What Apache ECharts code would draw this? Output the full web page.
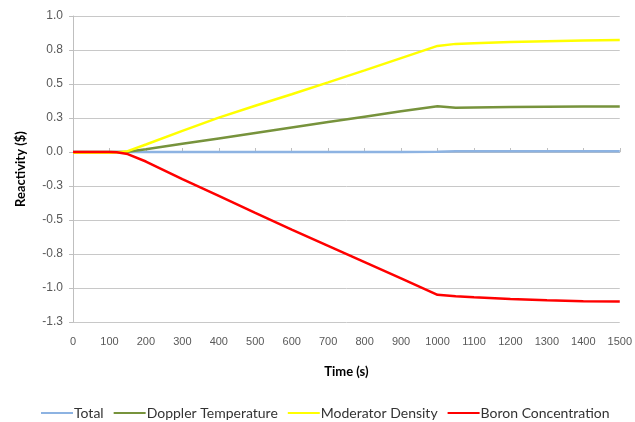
<!DOCTYPE html>
<html>
<head>
<meta charset="utf-8">
<script src="https://cdn.jsdelivr.net/npm/echarts@6/dist/echarts.min.js"></script>
<style>
html,body{margin:0;padding:0;background:#fff;}
#chart{width:635px;height:422px;}
</style>
</head>
<body>
<div id="chart"></div>
<script>
const time = [0,50,100,120,150,200,300,400,500,600,700,800,900,1000,1050,1100,1200,1300,1400,1500];
const total = [0,0,0,0,0,0,0,0,0,0,0,0,0,0.002,0.005,0.005,0.005,0.005,0.005,0.005];
const doppler = [0,0,0,0,0.002,0.02,0.06,0.1,0.14,0.18,0.22,0.26,0.3,0.337,0.326,0.328,0.33,0.332,0.334,0.335];
const moderator = [-0.005,-0.005,-0.005,-0.004,0.006,0.055,0.155,0.253,0.34,0.425,0.512,0.6,0.69,0.78,0.795,0.8,0.808,0.815,0.82,0.824];
const boron = [0,0,0,-0.002,-0.015,-0.07,-0.2,-0.323,-0.447,-0.57,-0.69,-0.81,-0.93,-1.05,-1.06,-1.068,-1.08,-1.09,-1.097,-1.1];
const seriesNames = ['Total','Doppler Temperature','Moderator Density','Boron Concentration'];
const seriesColors = ['#8db3e2','#77933c','#ffff00','#ff0000'];
const seriesData = [total, doppler, moderator, boron];

const chart = echarts.init(document.getElementById('chart'));
chart.setOption({
  animation: false,
  backgroundColor: '#fff',
  grid: {left: 73, right: 10, top: 16, bottom: 100, containLabel: false},
  legend: {
    top: 401,
    left: 36,
    itemWidth: 32,
    itemHeight: 2,
    itemGap: 10,
    icon: 'rect',
    textStyle: {fontFamily: 'Lato', fontSize: 14, color: '#333', padding: [0,0,0,-4]},
    data: seriesNames
  },
  xAxis: {
    type: 'value', min: 0, max: 1500, interval: 100,
    name: 'Time (s)', nameLocation: 'middle', nameGap: 43,
    nameTextStyle: {fontFamily: 'Lato', fontWeight: 'bold', fontSize: 13, color: '#000'},
    axisLine: {show: true, lineStyle: {color: '#bfbfbf', width: 1}},
    axisTick: {show: true, inside: true, length: 4, lineStyle: {color: '#bfbfbf'}},
    axisLabel: {fontFamily: 'Liberation Sans', fontSize: 11, color: '#595959', margin: 14,
      formatter: v => String(v)},
    splitLine: {show: false}
  },
  yAxis: {
    type: 'value', min: -1.25, max: 1.0, interval: 0.25,
    name: 'Reactivity ($)', nameLocation: 'middle', nameGap: 46, nameRotate: 90,
    nameTextStyle: {fontFamily: 'Lato', fontWeight: 'bold', fontSize: 13, color: '#000'},
    axisLine: {show: true, lineStyle: {color: '#bfbfbf', width: 1}},
    axisTick: {show: true, inside: false, length: 4, lineStyle: {color: '#bfbfbf'}},
    axisLabel: {fontFamily: 'Liberation Sans', fontSize: 12, color: '#595959', margin: 10,
      formatter: v => v.toFixed(1)},
    splitLine: {show: true, lineStyle: {color: '#c8c8c8', width: 1}}
  },
  series: seriesNames.map((n, i) => ({
    name: n,
    type: 'line',
    showSymbol: false,
    symbol: 'none',
    smooth: false,
    color: seriesColors[i],
    lineStyle: {width: 2.5, color: seriesColors[i]},
    data: time.map((t, j) => [t, seriesData[i][j]])
  }))
});
</script>
</body>
</html>
